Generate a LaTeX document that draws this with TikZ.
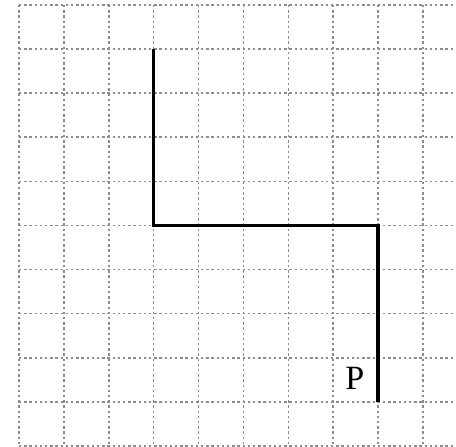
\documentclass[tikz,border=0pt]{standalone}
\usepackage{fontspec}
\setmainfont{Liberation Serif}
\tikzset{
  gridline/.style={color={rgb, 255:red, 140; green, 140; blue, 140}, line width=0.8pt, dash pattern={on 1.2pt off 1.4pt}},
  pathline/.style={line width=1.8pt, line join=miter},
  letter/.style={font=\fontsize{17}{19}\selectfont, inner sep=0pt}
}
\begin{document}
\begin{tikzpicture}[x=22.45pt,y=-22.05pt]
%set diagram frame to the size of the sheet
\useasboundingbox (-0.423,-0.113) rectangle (9.733,10.023);

%Grid Lines
\foreach \i in {0,...,9}
  \draw [gridline] (\i,0) -- (\i,10.023);
\foreach \j in {0,...,10}
  \draw [gridline] (0,\j) -- (9.733,\j);

%Corner Points
\coordinate (start) at (3,1);
\coordinate (bendA) at (3,5);
\coordinate (bendB) at (8,5);
\coordinate (endP) at (8,9);

%Straight Lines
\draw [pathline] (start) -- (bendA) -- (bendB) -- (endP);

% Text Node
\node [letter] (labelP) at (7.48,8.46) {P};

\end{tikzpicture}
\end{document}
